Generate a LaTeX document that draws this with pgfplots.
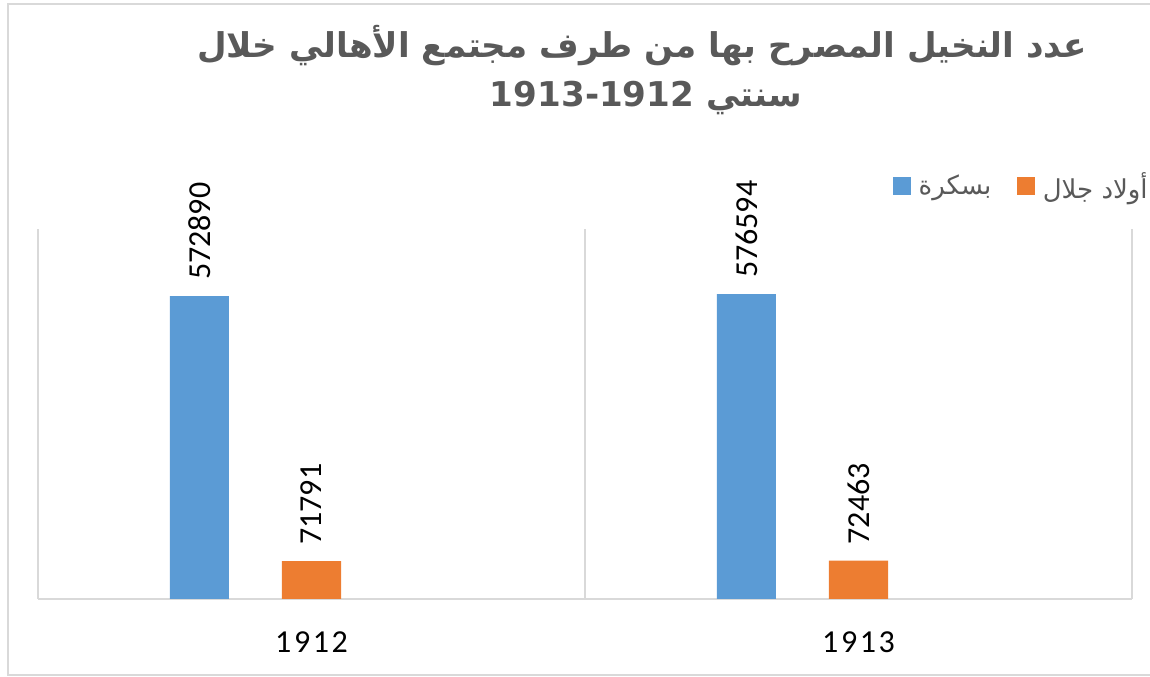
\documentclass[border=0pt]{standalone}
\usepackage{fontspec}
\usepackage{pgfplots}
\pgfplotsset{compat=1.18}
\setmainfont{Carlito}
\newfontfamily\arabicfont[Script=Arabic]{DejaVu Sans}
\newfontfamily\numfont{Carlito}
\newfontfamily\numfontsp[LetterSpace=8]{Carlito}
\TeXXeTstate=1
\definecolor{bluebar}{HTML}{5B9BD5}
\definecolor{orangebar}{HTML}{ED7D31}
\definecolor{gridgray}{HTML}{D9D9D9}
\definecolor{textgray}{HTML}{595959}
\begin{document}
\begin{tikzpicture}
\useasboundingbox (0,0) rectangle (862.5pt,507.75pt);
\draw[gridgray, line width=1.2pt] (862.5pt,504.75pt) -- (6pt,504.75pt) -- (6pt,1.5pt) -- (862.5pt,1.5pt);
\node[anchor=base, text=textgray, inner sep=0pt, font=\fontsize{25.6}{30}\arabicfont\bfseries] at (481.5pt,464.25pt) {\beginR عدد النخيل المصرح بها من طرف مجتمع الأهالي خلال\endR};
\node[anchor=base, text=textgray, inner sep=0pt, font=\fontsize{25.6}{30}\arabicfont\bfseries] at (484.5pt,427.5pt) {\beginR سنتي \beginL 1913-1912\endL\endR};
\begin{axis}[
  at={(28.5pt,58.5pt)}, anchor=south west,
  scale only axis, width=820.5pt, height=277.5pt,
  xmin=-0.5, xmax=1.5, ymin=0, ymax=700000,
  axis x line=bottom, axis y line=none,
  x axis line style={-, draw=gridgray, line width=1pt},
  xtick={0,1}, xticklabels={1912,1913},
  major tick length=0pt,
  xticklabel style={font=\fontsize{24}{28}\numfontsp, text=black, anchor=north, inner sep=0pt, yshift=-24pt},
  extra x ticks={-0.5,0.5,1.5}, extra x tick labels={},
  extra x tick style={grid=major, major grid style={draw=gridgray, line width=1pt}},
  ytick=\empty,
  ybar, bar width=0.108,
  point meta=explicit symbolic,
  nodes near coords,
  nodes near coords style={rotate=90, anchor=west, inner xsep=12pt, inner ysep=0pt, font=\fontsize{24}{28}\numfont, text=black},
  legend style={at={(1.0146,1.116)}, anchor=east, draw=none, fill=none, inner sep=0pt,
    legend columns=-1, font=\fontsize{19.5}{23}\arabicfont, text=textgray,
    nodes={inner sep=0pt},
    /tikz/every odd column/.append style={column sep=5.5pt},
    /tikz/every even column/.append style={column sep=19.5pt}},
]
\addplot[fill=bluebar, draw=none, bar shift=-0.205,
  legend image code/.code={\fill[bluebar] (0pt,-6.75pt) rectangle (13.5pt,6.75pt);}]
  coordinates {(0,572890) [572890] (1,576594) [576594]};
\addlegendentry{\beginR بسكرة\endR}
\addplot[fill=orangebar, draw=none, bar shift=0,
  legend image code/.code={\fill[orangebar] (0pt,-6.75pt) rectangle (13.5pt,6.75pt);}]
  coordinates {(0,71791) [71791] (1,72463) [72463]};
\addlegendentry{\beginR أولاد جلال\endR}
\end{axis}
\end{tikzpicture}
\end{document}
